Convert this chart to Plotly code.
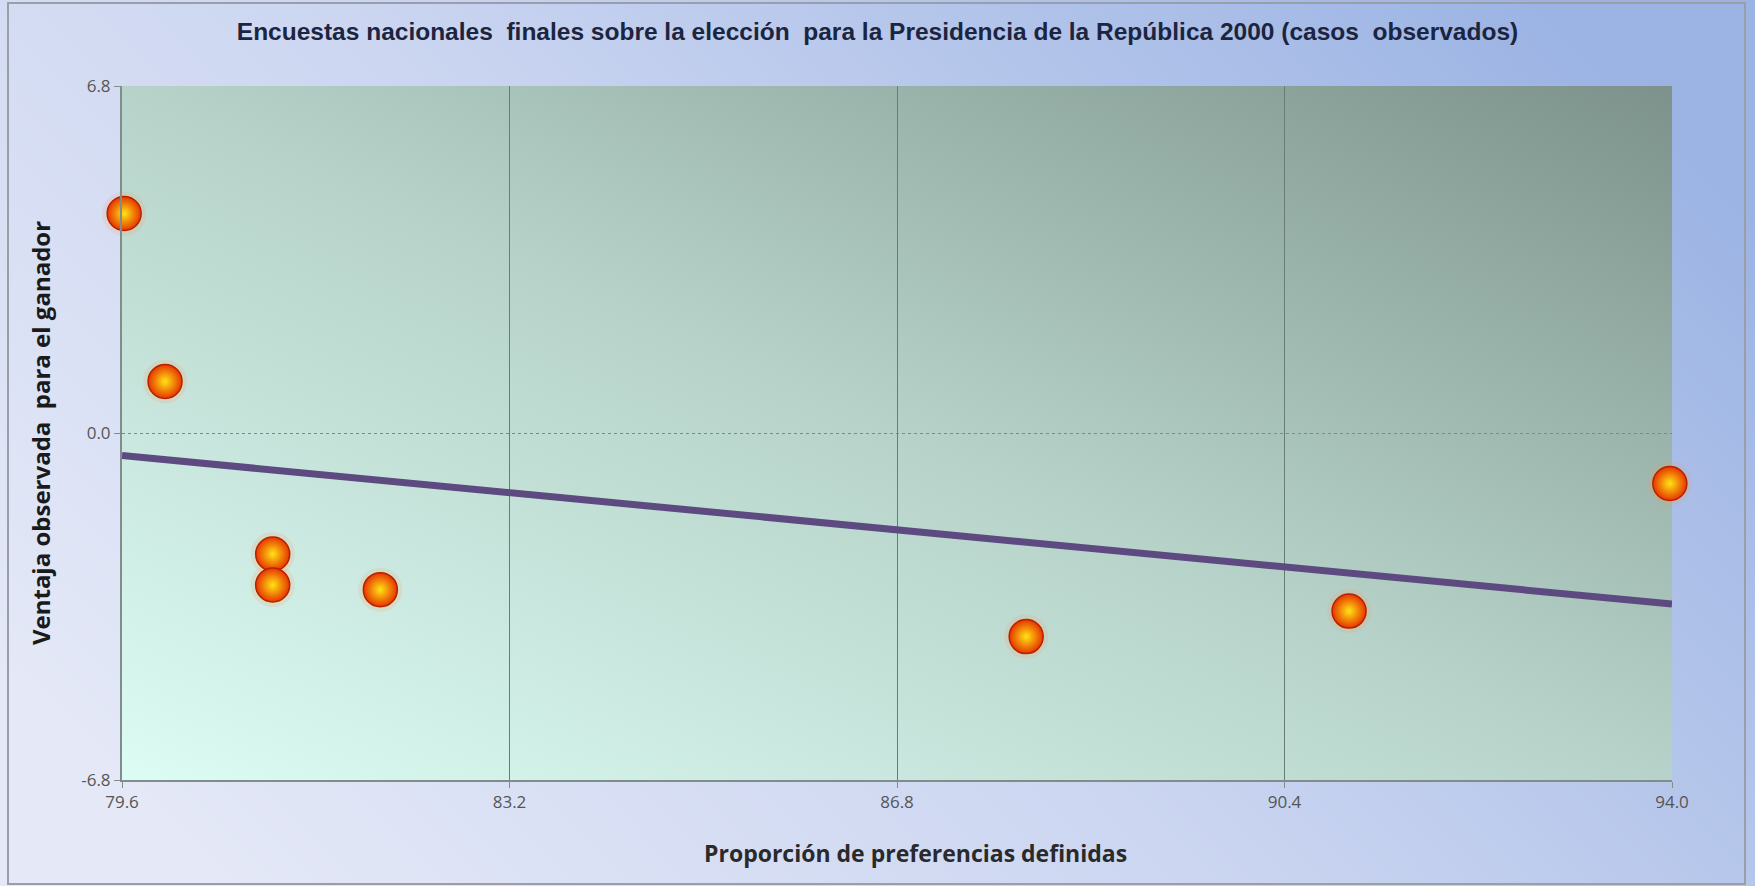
import base64
import numpy as np
import plotly.graph_objects as go

# Datos (casos observados)
preferencias = [79.62, 80.0, 81.0, 81.0, 82.0, 88.0, 91.0, 93.98]
ventaja = [4.30, 1.01, -2.37, -2.98, -3.07, -3.99, -3.49, -0.99]

x_ticks = [79.6, 83.2, 86.8, 90.4, 94.0]
y_ticks = [-6.8, 0.0, 6.8]

titulo = "Encuestas nacionales  finales sobre la elección  para la Presidencia de la República 2000 (casos  observados)"
x_titulo = "Proporción de preferencias definidas"
y_titulo = "Ventaja observada  para el ganador"

W, H = 1755, 886
ML, MR, MT, MB = 122, 83, 86, 106


def svg_gradiente(stops, x1=0, y1=1, x2=1, y2=0):
    st = ''.join(f'<stop offset="{o}" stop-color="{c}"/>' for o, c in stops)
    svg = (
        '<svg xmlns="http://www.w3.org/2000/svg" width="100" height="100" '
        'viewBox="0 0 100 100" preserveAspectRatio="none">'
        f'<defs><linearGradient id="g" x1="{x1}" y1="{y1}" x2="{x2}" y2="{y2}">'
        f'{st}</linearGradient></defs>'
        '<rect width="100" height="100" fill="url(#g)"/></svg>'
    )
    return "data:image/svg+xml;base64," + base64.b64encode(svg.encode()).decode()


# Recta de tendencia (mínimos cuadrados)
m, b = np.polyfit(preferencias, ventaja, 1)
x_rec = np.array([x_ticks[0], x_ticks[-1]])
y_rec = m * x_rec + b

fig = go.Figure()

fig.add_trace(go.Scatter(
    x=x_rec, y=y_rec, mode='lines',
    line=dict(color='#5d4a80', width=7),
    hoverinfo='skip', showlegend=False
))

# halo suave alrededor de los puntos
fig.add_trace(go.Scatter(
    x=preferencias, y=ventaja, mode='markers',
    marker=dict(size=44, color='rgba(255,150,80,0.16)', line=dict(width=0)),
    hoverinfo='skip', showlegend=False, cliponaxis=False
))

fig.add_trace(go.Scatter(
    x=preferencias, y=ventaja, mode='markers',
    marker=dict(size=34, color='#e63600',
                gradient=dict(type='radial', color='#ffe414'),
                line=dict(color='#b82000', width=1.5)),
    showlegend=False, cliponaxis=False
))

pw = W - ML - MR
ph = H - MT - MB

fig.update_layout(
    width=W, height=H,
    margin=dict(l=ML, r=MR, t=MT, b=MB),
    paper_bgcolor='#c8d4f0',
    plot_bgcolor='rgba(0,0,0,0)',
    title=dict(text=f'<b>{titulo}</b>', x=0.5, xanchor='center', y=0.965, yanchor='middle',
               font=dict(family='Liberation Sans Narrow, Arial Narrow, Liberation Sans, sans-serif',
                         size=24.5, color='#1c2540')),
    font=dict(family='Open Sans, sans-serif'),
    images=[
        dict(source=svg_gradiente([(0, '#e4e8f7'), (0.45, '#ccd6f1'), (1, '#9cb4e4')],
                                  x1=0, y1=0.75, x2=1, y2=0.25),
             xref='paper', yref='paper',
             x=-ML / pw, y=1 + MT / ph, sizex=W / pw, sizey=H / ph,
             sizing='stretch', layer='below', xanchor='left', yanchor='top'),
        dict(source=svg_gradiente([(0, '#dcfcf4'), (0.5, '#b7d3c9'), (1, '#7c928b')]),
             xref='paper', yref='paper',
             x=0, y=1, sizex=1, sizey=1,
             sizing='stretch', layer='below', xanchor='left', yanchor='top'),
    ],
    shapes=[
        dict(type='rect', xref='paper', yref='paper',
             x0=-(ML - 8) / pw, x1=1 + (MR - 10) / pw,
             y0=-(MB - 2) / ph, y1=1 + (MT - 3) / ph,
             line=dict(color='#9a9ea8', width=2), layer='below'),
    ],
    annotations=[
        dict(text=f'<b>{x_titulo}</b>', xref='paper', yref='paper',
             x=0.512, y=-(853 - MT - ph) / ph, xanchor='center', yanchor='middle',
             showarrow=False,
             font=dict(size=23, color='#2a2a2a', family='Open Sans, sans-serif')),
    ],
)

fig.update_xaxes(
    range=[x_ticks[0], x_ticks[-1]], tickvals=x_ticks,
    ticktext=[f'{v:.1f}' for v in x_ticks],
    showgrid=True, gridcolor='#6a7c76', gridwidth=1,
    showline=True, linecolor='#7f8e8a', linewidth=2,
    ticks='outside', ticklen=6, tickcolor='#7f8e8a',
    tickfont=dict(size=17, color='#555555'),
    zeroline=False, automargin=False,
)
fig.update_yaxes(
    range=[y_ticks[0], y_ticks[-1]], tickvals=y_ticks,
    ticktext=[f'{v:.1f}' for v in y_ticks],
    showgrid=True, gridcolor='#7b8c86', gridwidth=1, griddash='dot',
    showline=True, linecolor='#7f8e8a', linewidth=2,
    ticks='outside', ticklen=6, tickcolor='#7f8e8a',
    tickfont=dict(size=17, color='#555555'),
    title=dict(text=f'<b>{y_titulo}</b>', standoff=24,
               font=dict(size=24, color='#1a1a1a', family='Open Sans, sans-serif')),
    zeroline=False, automargin=False,
)

fig.write_html("out.html", config={'displayModeBar': False},
               post_script="document.body.style.margin='0';")
